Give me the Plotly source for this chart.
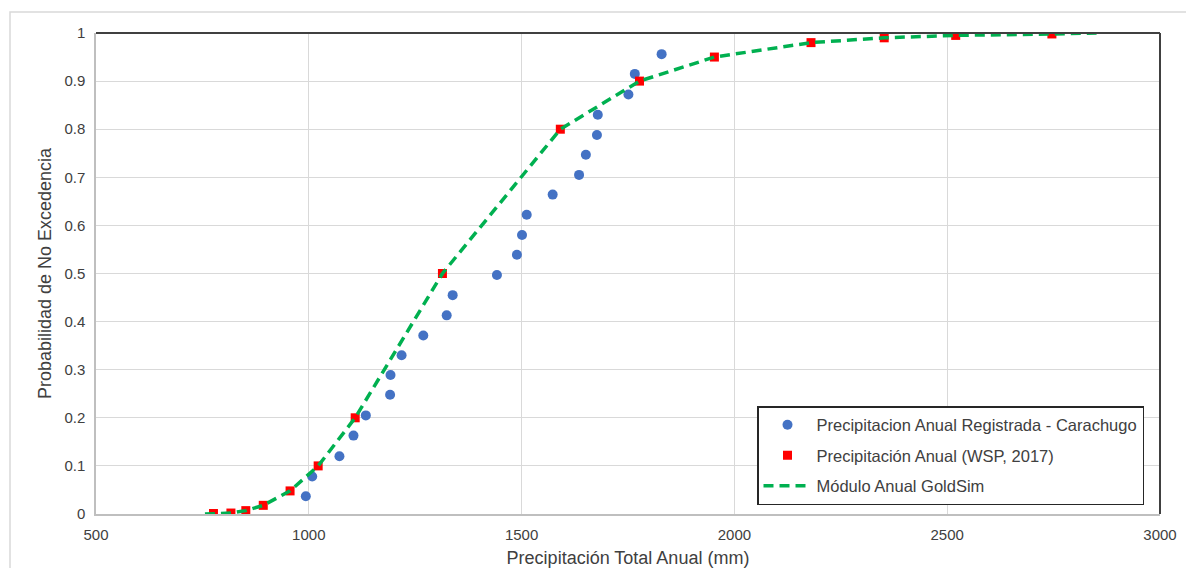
import plotly.graph_objects as go

# Observed annual precipitation (Carachugo) - blue dots
obs_x = [993, 1008, 1072, 1105, 1134, 1191, 1192, 1218, 1269, 1324, 1338, 1442,
         1489, 1501, 1512, 1573, 1635, 1651, 1677, 1679, 1751, 1766, 1829]
obs_y = [0.037, 0.078, 0.120, 0.163, 0.205, 0.248, 0.289, 0.330, 0.371, 0.413, 0.455,
         0.497, 0.539, 0.580, 0.622, 0.664, 0.705, 0.747, 0.788, 0.830, 0.872, 0.915, 0.956]

# WSP 2017 annual precipitation - red squares
wsp_x = [776, 817, 852, 893, 956, 1022, 1109, 1314, 1591, 1777, 1953, 2180, 2352, 2520, 2746]
wsp_y = [0.001, 0.002, 0.007, 0.018, 0.048, 0.1, 0.2, 0.5, 0.8, 0.9, 0.95, 0.98, 0.99, 0.995, 0.998]

# GoldSim annual module - green dashed curve
gs_x = [756, 776, 817, 852, 893, 956, 1022, 1109, 1314, 1591, 1777, 1953, 2180, 2352, 2520, 2746, 2851]
gs_y = [0.0, 0.001, 0.002, 0.007, 0.018, 0.048, 0.1, 0.2, 0.5, 0.8, 0.9, 0.95, 0.98, 0.99, 0.995, 0.998, 1.0]

x_ticks = [500, 1000, 1500, 2000, 2500, 3000]
y_ticks = [0, 0.1, 0.2, 0.3, 0.4, 0.5, 0.6, 0.7, 0.8, 0.9, 1]
y_tick_text = ["0", "0.1", "0.2", "0.3", "0.4", "0.5", "0.6", "0.7", "0.8", "0.9", "1"]

FONT = "Liberation Sans, Arial, sans-serif"
TXT = "#404040"

fig = go.Figure()
fig.add_trace(go.Scatter(
    x=obs_x, y=obs_y, mode="markers", name="Precipitacion Anual Registrada - Carachugo",
    marker=dict(color="#4472C4", size=10, symbol="circle"), legendgroup="a"))
fig.add_trace(go.Scatter(
    x=wsp_x, y=wsp_y, mode="markers", name="Precipitación Anual (WSP, 2017)",
    marker=dict(color="#FF0000", size=9, symbol="square"), legendgroup="b"))
fig.add_trace(go.Scatter(
    x=gs_x, y=gs_y, mode="lines", name="Módulo Anual GoldSim",
    line=dict(color="#00B050", width=3.5, dash="10px,6px"), legendgroup="c"))

# page has an 8px body margin, so figure coords = page coords - 8
OFF = 8
W, H = 1194 - OFF, 568 - OFF
L, R, T, B = 96 - OFF, 1160 - OFF, 33 - OFF, 514 - OFF
pw, ph = R - L, B - T

def px(xp):
    return (xp - OFF - L) / pw

def py(yp):
    return (B - (yp - OFF)) / ph

fig.update_layout(
    width=W, height=H,
    margin=dict(l=L, r=W - R, t=T, b=H - B),
    paper_bgcolor="white", plot_bgcolor="white",
    font=dict(family=FONT, size=15, color=TXT),
    showlegend=True,
    legend=dict(
        x=px(757), y=py(406), xanchor="left", yanchor="top",
        bgcolor="white", bordercolor="#262626", borderwidth=1.5,
        font=dict(family=FONT, size=16.5, color="#404040"),
        itemwidth=48, tracegroupgap=6, traceorder="grouped",
    ),
    xaxis=dict(
        range=[500, 3000], tickvals=x_ticks, ticktext=[str(v) for v in x_ticks],
        showgrid=True, gridcolor="#d9d9d9", gridwidth=1,
        showline=True, linecolor="#bfbfbf", linewidth=1.5,
        ticks="", zeroline=False, tickfont=dict(size=15, color=TXT),
        ticklabelstandoff=6,
        title=dict(text="Precipitación Total Anual (mm)", font=dict(size=18, color=TXT), standoff=18),
        automargin=False,
    ),
    yaxis=dict(
        range=[0, 1], tickvals=y_ticks, ticktext=y_tick_text,
        showgrid=True, gridcolor="#d9d9d9", gridwidth=1,
        showline=True, linecolor="#bfbfbf", linewidth=1.5,
        ticks="", zeroline=False, tickfont=dict(size=15, color=TXT),
        ticklabelstandoff=6,
        title=dict(text="Probabilidad de No Excedencia", font=dict(size=18, color=TXT), standoff=8),
        automargin=False,
    ),
    shapes=[
        dict(type="rect", xref="paper", yref="paper",
             x0=px(10), x1=px(1220), y0=py(600), y1=py(12),
             line=dict(color="#d9d9d9", width=1.5), fillcolor="rgba(0,0,0,0)", layer="below"),
        dict(type="line", xref="paper", yref="paper", x0=0, x1=1, y0=1, y1=1,
             line=dict(color="#404040", width=2)),
        dict(type="line", xref="paper", yref="paper", x0=1, x1=1, y0=0, y1=1,
             line=dict(color="#404040", width=2)),
    ],
)

fig.write_html("out.html")
